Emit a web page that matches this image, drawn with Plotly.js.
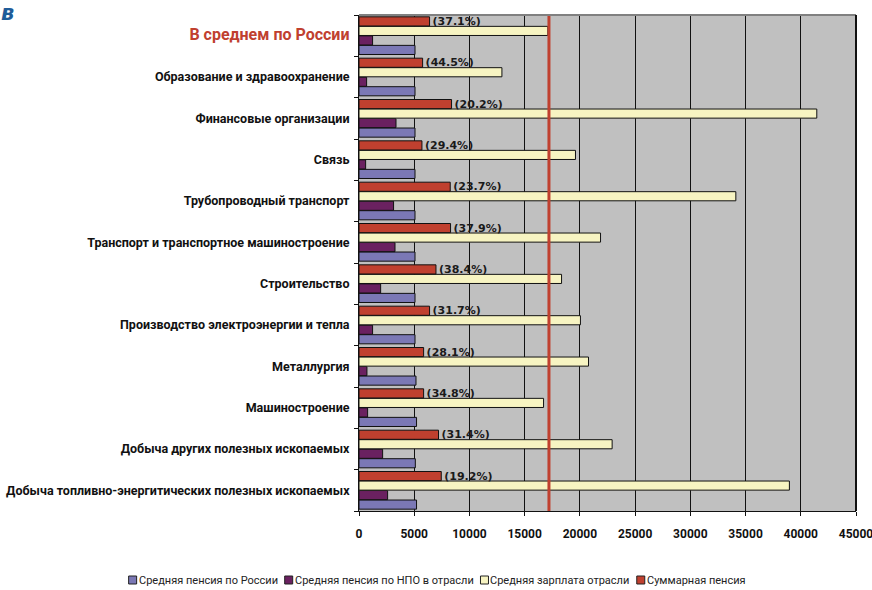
<!DOCTYPE html>
<html>
<head>
<meta charset="utf-8">
<script src="https://cdn.plot.ly/plotly-3.0.1.min.js"></script>
<style>html,body{margin:0;padding:0;background:#fff;}#chart{width:872px;height:590px;}</style>
</head>
<body>
<div id="chart"></div>
<script>
// Categories listed bottom to top
const categories = [
  "Добыча топливно-энергитических полезных ископаемых",
  "Добыча других полезных ископаемых",
  "Машиностроение",
  "Металлургия",
  "Производство электроэнергии и тепла",
  "Строительство",
  "Транспорт и транспортное машиностроение",
  "Трубопроводный транспорт",
  "Связь",
  "Финансовые организации",
  "Образование и здравоохранение",
  "В среднем по России"
];
const avgPensionRussia = [5210, 5100, 5210, 5160, 5070, 5070, 5070, 5070, 5070, 5070, 5070, 5070];
const avgPensionNPO    = [2590, 2140, 780, 720, 1230, 1960, 3260, 3130, 600, 3350, 690, 1230];
const avgSalary        = [38970, 22920, 16710, 20780, 20050, 18340, 21870, 34120, 19600, 41450, 12940, 17100];
const totalPension     = [7450, 7200, 5850, 5850, 6390, 6970, 8290, 8260, 5700, 8380, 5760, 6390];
const shareLabels      = ["(19.2%)", "(31.4%)", "(34.8%)", "(28.1%)", "(31.7%)", "(38.4%)", "(37.9%)", "(23.7%)", "(29.4%)", "(20.2%)", "(44.5%)", "(37.1%)"];
const seriesNames = ["Средняя пенсия по России", "Средняя пенсия по НПО в отрасли", "Средняя зарплата отрасли", "Суммарная пенсия"];
const xTicks = [0, 5000, 10000, 15000, 20000, 25000, 30000, 35000, 40000, 45000];
const russiaAvgSalaryLine = 17200;

const W = 872, H = 590;
const M = {l: 359, r: 16, t: 15, b: 79};
const PW = W - M.l - M.r, PH = H - M.t - M.b;
const px2x = p => (p - M.l) / PW;
const px2y = p => (H - M.b - p) / PH;

const condFont = "Roboto, 'Liberation Sans Narrow', sans-serif";
const colors = ["#7B78B5", "#6A2160", "#F7F4C2", "#C0402F"];
const values = [avgPensionRussia, avgPensionNPO, avgSalary, totalPension];

const traces = values.map((v, i) => {
  const t = {
    type: 'bar',
    orientation: 'h',
    name: seriesNames[i],
    x: v,
    y: categories,
    marker: {color: colors[i], line: {color: '#111', width: 1}},
    hoverinfo: 'x+name'
  };
  if (i === 3) {
    t.text = shareLabels;
    t.textposition = 'outside';
    t.constraintext = 'none';
    t.cliponaxis = false;
    t.textfont = {family: "'DejaVu Sans', sans-serif", size: 11, color: '#1a1a1a', weight: 'bold'};
  }
  return t;
});

const tickText = categories.map(c => c === "В среднем по России"
  ? '<span style="color:#C0402F;font-size:16px">' + c + '</span>' : c);

// Compact legend (small bordered squares with labels right next to them)
const legFontSize = 11;
const ctx = document.createElement('canvas').getContext('2d');
ctx.font = legFontSize + "px Roboto";
const sq = 8, gapAfterSq = 2, gapAfterText = 7;
const widths = seriesNames.map(n => ctx.measureText(n).width);
const total = widths.reduce((a, w) => a + sq + gapAfterSq + w + gapAfterText, 0) - gapAfterText;
let cx = 437 - total / 2;
const legY = 580;
const legendShapes = [], legendAnn = [];
seriesNames.forEach((n, i) => {
  legendShapes.push({type: 'rect', xref: 'paper', yref: 'paper',
    x0: px2x(cx), x1: px2x(cx + sq), y0: px2y(legY + sq / 2), y1: px2y(legY - sq / 2),
    fillcolor: colors[i], line: {color: '#222', width: 1}});
  legendAnn.push({text: n, xref: 'paper', yref: 'paper', x: px2x(cx + sq + gapAfterSq - 1), y: px2y(legY),
    xanchor: 'left', yanchor: 'middle', showarrow: false, borderpad: 0,
    font: {family: condFont, size: legFontSize, color: '#222'}});
  cx += sq + gapAfterSq + widths[i] + gapAfterText;
});

const layout = {
  width: W, height: H,
  margin: {l: M.l, r: M.r, t: M.t, b: M.b, autoexpand: false},
  paper_bgcolor: '#ffffff',
  plot_bgcolor: '#C0C0C0',
  barmode: 'group',
  bargap: 0.08,
  bargroupgap: 0.04,
  showlegend: false,
  xaxis: {
    range: [0, 45000],
    tickvals: xTicks,
    ticktext: xTicks.map(String),
    showgrid: true, gridcolor: '#111', gridwidth: 1,
    zeroline: false,
    showline: true, linecolor: '#111', linewidth: 1,
    ticks: 'outside', ticklen: 4, tickcolor: '#111',
    ticklabelstandoff: 8,
    ticklabeloverflow: 'allow',
    tickfont: {family: condFont, size: 12, color: '#111', weight: 'bold'},
    fixedrange: true
  },
  yaxis: {
    type: 'category',
    tickvals: categories,
    ticktext: tickText,
    showline: true, linecolor: '#111', linewidth: 1,
    ticks: 'outside', ticklen: 4, tickcolor: '#111', tickson: 'boundaries',
    showgrid: false,
    tickfont: {family: condFont, size: 12.5, color: '#111', weight: 'bold'},
    ticklabelstandoff: 6,
    fixedrange: true
  },
  shapes: [
    {type: 'line', xref: 'x', yref: 'paper', x0: russiaAvgSalaryLine, x1: russiaAvgSalaryLine, y0: 0, y1: 1,
     line: {color: '#C0402F', width: 3}, layer: 'above'},
    {type: 'line', xref: 'paper', yref: 'paper', x0: 0, x1: 1, y0: 1, y1: 1, line: {color: '#808080', width: 2}},
    {type: 'line', xref: 'paper', yref: 'paper', x0: 1, x1: 1, y0: 0, y1: 1, line: {color: '#111', width: 2}}
  ].concat(legendShapes),
  annotations: [
    {text: '<b><i>в</i></b>', xref: 'paper', yref: 'paper', x: px2x(0), y: px2y(0), xanchor: 'left', yanchor: 'top',
     showarrow: false, borderpad: 0, font: {family: "'DejaVu Sans', sans-serif", size: 21, color: '#1F5C99'}}
  ].concat(legendAnn)
};

Plotly.newPlot('chart', traces, layout, {displayModeBar: false, staticPlot: true});
</script>
</body>
</html>
